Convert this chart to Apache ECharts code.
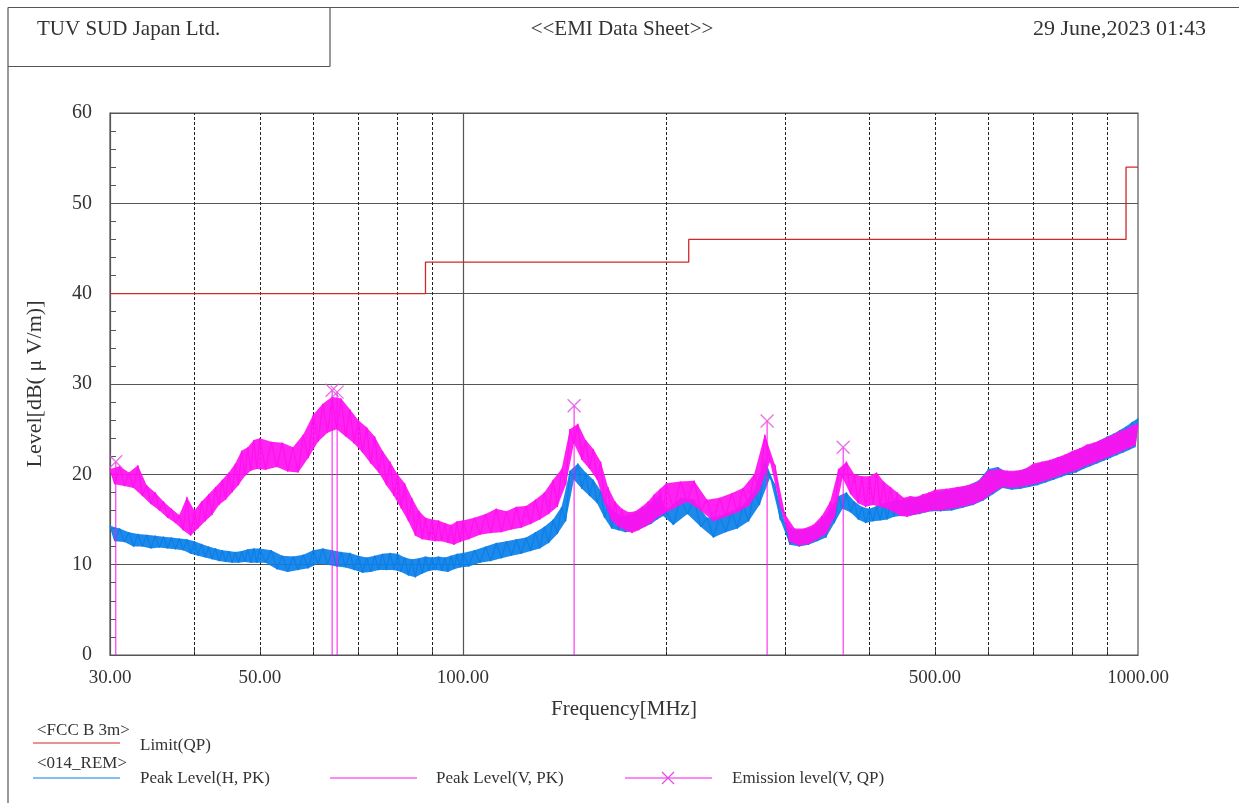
<!DOCTYPE html>
<html><head><meta charset="utf-8">
<script src="https://cdn.jsdelivr.net/npm/echarts@6/dist/echarts.min.js"></script>
<style>html,body{margin:0;padding:0;background:#fff}#c{width:1239px;height:803px}</style>
</head><body><div id="c"></div>
<script>
// Sweep frequencies (MHz)
const freqMHz = [
30,30.5,31,31.5,32,32.5,33,33.5,34,34.5,35,35.5,36,36.5,37,37.5,38,38.5,39,39.5,40,40.5,41,41.5,42,42.5,43,43.5,44,44.5,45,45.5,46,46.5,47,47.5,48,48.5,49,49.5,
50,51,52,53,54,55,56,57,58,59,60,61,62,63,64,65,66,67,68,69,70,71,72,73,74,75,76,77,78,79,80,81,82,83,84,85,86,87,88,89,90,91,92,93,94,95,96,97,98,99,
100,102,104,106,108,110,112,114,116,118,120,122,124,126,128,130,132,134,136,138,140,142,144,146,148,150,152,154,156,158,160,162,164,166,168,170,172,174,176,178,180,182,184,186,188,190,192,194,196,198,
200,205,210,215,220,225,230,235,240,245,250,255,260,265,270,275,280,285,290,295,300,305,310,315,320,325,330,335,340,345,350,355,360,365,370,375,380,385,390,395,400,405,410,415,420,425,430,435,440,445,450,455,460,465,470,475,480,485,490,495,
500,510,520,530,540,550,560,570,580,590,600,610,620,630,640,650,660,670,680,690,700,710,720,730,740,750,760,770,780,790,800,810,820,830,840,850,860,870,880,890,900,910,920,930,940,950,960,970,980,990,1000];

// Peak Level (H, PK) dBuV/m  (alternating upper / lower edge of the noise band)
const peakH = [
14.3,12.6,14.0,12.5,13.6,12.0,13.4,12.0,13.3,11.8,13.2,11.9,13.1,11.8,13.0,11.7,12.9,11.6,12.8,11.2,12.6,11.0,12.3,10.8,12.0,10.6,11.8,10.4,11.6,10.3,11.5,10.2,11.4,10.2,11.5,10.3,11.7,10.2,11.8,10.2,
11.8,10.2,11.6,9.5,11.0,9.2,10.9,9.4,11.1,9.6,11.6,10.1,11.8,10.0,11.6,9.8,11.4,9.7,11.3,9.4,11.0,9.1,10.8,9.2,11.0,9.4,11.2,9.4,11.3,9.4,11.2,9.2,10.8,8.8,10.6,8.6,10.7,9.0,10.9,9.3,10.8,9.4,10.9,9.3,10.8,9.2,11.0,9.5,11.2,9.7,
11.3,9.8,11.6,10.2,12.0,10.4,12.4,10.7,12.6,11.0,12.8,11.2,13.0,11.5,13.6,11.8,14.2,12.4,15.0,13.4,16.4,14.8,20.4,19.4,21.2,18.4,20.2,17.6,19.4,16.8,18.2,15.2,16.6,14.0,15.8,13.8,15.4,13.6,15.5,13.7,15.8,13.9,16.2,14.2,16.6,14.5,17.2,15.0,17.8,15.4,
16.0,14.4,17.4,15.6,17.2,14.2,15.2,13.0,15.4,13.6,15.9,14.0,16.6,14.8,18.2,16.6,21.6,19.6,18.8,15.0,14.6,12.2,13.8,12.0,13.9,12.2,14.2,12.6,15.0,13.0,16.2,14.6,17.6,16.2,18.0,15.8,17.0,15.0,16.4,14.6,16.2,14.8,16.5,14.9,16.8,15.0,17.0,15.3,17.2,15.4,17.2,15.4,17.4,15.5,17.5,15.6,17.6,15.8,17.9,15.9,
18.0,15.9,18.2,16.0,18.5,16.3,18.8,16.6,19.3,17.1,20.6,17.8,20.8,18.5,20.2,18.3,20.3,18.4,20.6,18.6,21.0,18.8,21.3,19.1,21.5,19.4,21.8,19.7,22.1,20.0,22.5,20.2,22.8,20.6,23.2,20.9,23.4,21.2,23.8,21.5,24.2,21.8,24.5,22.1,24.9,22.4,25.3,22.7,25.8,23.0,26.2];

// Peak Level (V, PK) dBuV/m  (alternating upper / lower edge of the noise band)
const peakV = [
20.6,18.9,20.9,18.7,20.2,18.5,21.0,17.6,18.8,16.7,18.0,16.0,17.0,15.2,16.2,14.6,15.5,13.8,17.5,13.2,16.0,14.0,17.0,14.8,17.8,15.5,18.6,16.6,19.4,17.2,20.2,18.0,21.2,18.8,22.6,19.8,23.0,20.4,23.8,20.6,
24.0,20.5,23.6,20.8,23.5,20.3,23.0,20.2,24.4,21.8,26.6,23.6,27.8,24.6,28.6,25.0,28.4,24.2,27.2,23.4,26.0,22.4,25.2,21.2,24.2,20.2,22.6,18.8,21.4,17.6,20.0,16.2,19.0,14.8,17.4,13.2,16.0,12.8,15.2,12.7,15.0,12.6,14.9,12.6,14.6,12.4,14.4,12.2,14.8,12.5,
14.9,12.8,15.2,13.3,15.6,13.5,16.2,13.6,15.9,13.9,16.4,14.1,16.5,14.5,17.2,15.0,18.0,15.6,19.4,16.4,20.6,18.8,25.0,23.4,25.6,21.6,23.8,20.6,22.8,19.4,21.4,16.8,18.6,14.9,17.0,14.2,16.2,13.8,15.8,13.5,15.9,13.8,16.4,14.2,17.0,14.6,17.8,15.2,18.4,15.6,
19.0,16.2,19.2,17.0,19.3,16.0,17.2,14.8,17.4,15.3,17.9,15.8,18.5,16.5,20.0,18.2,24.4,21.4,21.0,16.5,15.6,12.5,14.0,12.1,14.0,12.3,14.4,12.8,15.4,13.4,17.0,15.2,20.6,19.6,21.4,17.8,20.0,16.8,19.8,16.4,19.8,16.6,20.2,16.4,19.2,16.2,18.6,15.8,18.0,15.4,17.4,15.3,17.6,15.5,17.5,15.7,17.8,15.8,18.0,16.0,
18.3,16.0,18.4,16.2,18.6,16.4,18.8,16.7,19.2,17.2,20.4,18.0,20.6,18.6,20.4,18.5,20.4,18.6,20.6,18.8,21.2,19.0,21.4,19.3,21.6,19.6,21.9,19.9,22.2,20.2,22.6,20.4,22.9,20.8,23.3,21.1,23.5,21.4,23.8,21.7,24.1,22.0,24.4,22.3,24.8,22.6,25.0,22.9,25.4,23.2,25.6];

// FCC B 3m limit (QP)
const limitFreq = [30,88,88,216,216,960,960,1000];
const limitLevel = [40,40,43.5,43.5,46,46,54,54];

// Emission level (V, QP)
const qpFreq = [30.6,64.0,65.1,146.1,282.2,365.8];
const qpLevel = [21.4,29.3,29.1,27.6,25.9,23.0];

// Axis ticks / grid
const xLabelValues = [30,50,100,500,1000];
const xDashedGrid = [40,50,60,70,80,90,200,300,400,500,600,700,800,900];
const xSolidGrid = [100];

const FONT = "'Liberation Serif','DejaVu Serif',serif";
const TXT = '#333';
const BLUE = '#0a7fe8';
const MAG = '#ff10f0';
const RED = '#d02828';
const MARK = '#e050e0';

const chart = echarts.init(document.getElementById('c'), null, {renderer:'canvas'});

const pairs = (xs, ys) => xs.map((x, i) => [x, ys[i]]);

// noise band: upper edge = even samples, lower edge = odd samples, placed via the chart's axes
const bandSeries = (name, ys, color, z) => ({
  name: name, type: 'custom', data: [[freqMHz[0], ys[0]]], z: z, silent: true,
  encode: {x: 0, y: 1},
  renderItem: (params, api) => {
    const up = [], lo = [];
    for (let i = 0; i < freqMHz.length; i++) {
      const p = api.coord([freqMHz[i], ys[i]]);
      (i % 2 === 0 ? up : lo).push(p);
    }
    return {type: 'polygon', shape: {points: up.concat(lo.reverse())}, style: {fill: color, opacity: 0.92}};
  }
});

const gridLines = xDashedGrid.map(v => ({xAxis: v, lineStyle: {type: [3, 2], color: '#222', width: 1}}))
  .concat(xSolidGrid.map(v => ({xAxis: v, lineStyle: {type: 'solid', color: '#555', width: 1.2}})));

const option = {
  animation: false,
  backgroundColor: '#fff',
  grid: {left: 110, right: 101, top: 113, bottom: 148, show: true, borderColor: '#555', borderWidth: 1.2, containLabel: false},
  xAxis: {
    type: 'log', logBase: 10, min: 30, max: 1000,
    name: 'Frequency[MHz]', nameLocation: 'middle', nameGap: 44,
    nameTextStyle: {fontFamily: FONT, fontSize: 21, color: TXT},
    axisLine: {show: true, lineStyle: {color: '#555', width: 1.2}},
    axisTick: {show: true, inside: true, length: 5, customValues: xDashedGrid.concat(xSolidGrid), lineStyle: {color: '#555'}},
    axisLabel: {customValues: xLabelValues, margin: 14, fontFamily: FONT, fontSize: 19, color: TXT,
      formatter: v => Number(v).toFixed(2)},
    splitLine: {show: false}, minorTick: {show: false}, minorSplitLine: {show: false}
  },
  yAxis: {
    type: 'value', min: 0, max: 60, interval: 10,
    name: 'Level[dB( μ V/m)]', nameLocation: 'middle', nameGap: 64, nameRotate: 90,
    nameTextStyle: {fontFamily: FONT, fontSize: 22, color: TXT},
    axisLine: {show: true, lineStyle: {color: '#555', width: 1.2}},
    axisTick: {show: true, inside: true, length: 6, lineStyle: {color: '#555'}},
    minorTick: {show: true, splitNumber: 5, length: 6, lineStyle: {color: '#555'}},
    axisLabel: {margin: 18, fontFamily: FONT, fontSize: 20, color: TXT},
    splitLine: {show: true, lineStyle: {color: '#555', width: 1.2}}
  },
  series: [
    bandSeries('H band', peakH, BLUE, 2),
    {name: 'Peak Level(H, PK)', type: 'line', data: pairs(freqMHz, peakH), showSymbol: false, symbol: 'none',
      lineStyle: {color: BLUE, width: 1.2}, z: 3},
    bandSeries('V band', peakV, MAG, 4),
    {name: 'Peak Level(V, PK)', type: 'line', data: pairs(freqMHz, peakV), showSymbol: false, symbol: 'none',
      lineStyle: {color: MAG, width: 1.2}, z: 5},
    {name: 'Limit(QP)', type: 'line', data: pairs(limitFreq, limitLevel), showSymbol: false, symbol: 'none',
      lineStyle: {color: RED, width: 1.3}, z: 6,
      markLine: {silent: true, symbol: 'none', label: {show: false}, data: gridLines, z: 1}},
    {name: 'QP stems', type: 'custom', data: pairs(qpFreq, qpLevel), z: 7,
      encode: {x: 0, y: 1},
      renderItem: (params, api) => {
        const p0 = api.coord([api.value(0), 0]);
        const p1 = api.coord([api.value(0), api.value(1)]);
        return {type: 'line', shape: {x1: p0[0], y1: p0[1], x2: p1[0], y2: p1[1]}, style: {stroke: MAG, lineWidth: 1}};
      }},
    {name: 'Emission level(V, QP)', type: 'scatter', data: pairs(qpFreq, qpLevel), z: 8,
      symbol: 'path://M0,0L10,10M10,0L0,10', symbolSize: 13,
      itemStyle: {color: 'none', borderColor: MARK, borderWidth: 1.3}}
  ],
  graphic: [
    // header frame
    {type: 'line', shape: {x1: 8, y1: 7.5, x2: 1239, y2: 7.5}, style: {stroke: '#555', lineWidth: 1.2}},
    {type: 'line', shape: {x1: 8, y1: 7.5, x2: 8, y2: 803}, style: {stroke: '#555', lineWidth: 1.2}},
    {type: 'line', shape: {x1: 330, y1: 7.5, x2: 330, y2: 66.5}, style: {stroke: '#555', lineWidth: 1.2}},
    {type: 'line', shape: {x1: 8, y1: 66.5, x2: 330, y2: 66.5}, style: {stroke: '#555', lineWidth: 1.2}},
    {type: 'text', x: 37, y: 29, style: {text: 'TUV SUD Japan Ltd.', font: "21px 'Liberation Serif'", fill: TXT, align: 'left', verticalAlign: 'middle'}},
    {type: 'text', x: 622, y: 29, style: {text: '<<EMI Data Sheet>>', font: "21px 'Liberation Serif'", fill: TXT, align: 'center', verticalAlign: 'middle'}},
    {type: 'text', x: 1206, y: 29, style: {text: '29 June,2023 01:43', font: "22px 'Liberation Serif'", fill: TXT, align: 'right', verticalAlign: 'middle'}},
    // legend
    {type: 'text', x: 37, y: 731, style: {text: '<FCC B 3m>', font: "17px 'Liberation Serif'", fill: TXT, align: 'left', verticalAlign: 'middle'}},
    {type: 'line', shape: {x1: 33, y1: 743, x2: 120, y2: 743}, style: {stroke: RED, lineWidth: 1.2}},
    {type: 'text', x: 140, y: 746, style: {text: 'Limit(QP)', font: "17px 'Liberation Serif'", fill: TXT, align: 'left', verticalAlign: 'middle'}},
    {type: 'text', x: 37, y: 764, style: {text: '<014_REM>', font: "17px 'Liberation Serif'", fill: TXT, align: 'left', verticalAlign: 'middle'}},
    {type: 'line', shape: {x1: 33, y1: 778, x2: 120, y2: 778}, style: {stroke: BLUE, lineWidth: 1.2}},
    {type: 'text', x: 140, y: 779, style: {text: 'Peak Level(H, PK)', font: "17px 'Liberation Serif'", fill: TXT, align: 'left', verticalAlign: 'middle'}},
    {type: 'line', shape: {x1: 330, y1: 778, x2: 417, y2: 778}, style: {stroke: MAG, lineWidth: 1.2}},
    {type: 'text', x: 436, y: 779, style: {text: 'Peak Level(V, PK)', font: "17px 'Liberation Serif'", fill: TXT, align: 'left', verticalAlign: 'middle'}},
    {type: 'line', shape: {x1: 625, y1: 778, x2: 712, y2: 778}, style: {stroke: MAG, lineWidth: 1.2}},
    {type: 'line', shape: {x1: 662, y1: 772, x2: 674, y2: 784}, style: {stroke: MARK, lineWidth: 1.3}},
    {type: 'line', shape: {x1: 674, y1: 772, x2: 662, y2: 784}, style: {stroke: MARK, lineWidth: 1.3}},
    {type: 'text', x: 732, y: 779, style: {text: 'Emission level(V, QP)', font: "17px 'Liberation Serif'", fill: TXT, align: 'left', verticalAlign: 'middle'}}
  ]
};
chart.setOption(option);
</script>
</body></html>
